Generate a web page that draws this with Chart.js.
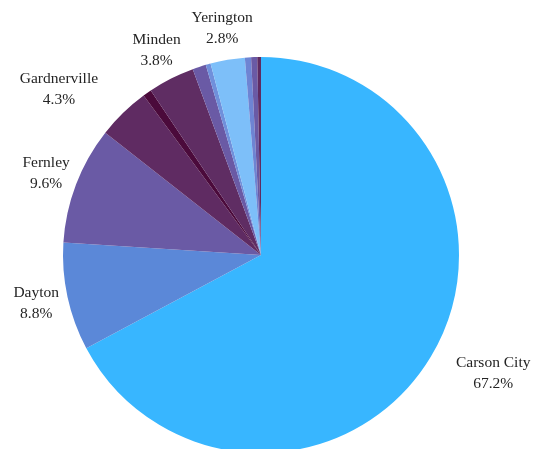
<!DOCTYPE html>
<html>
<head>
<meta charset="utf-8">
<script src="https://cdn.jsdelivr.net/npm/chart.js@4"></script>
<style>
html,body{margin:0;padding:0;overflow:hidden;background:#fff}
#wrap{position:relative;width:544px;height:470px}
</style>
</head>
<body>
<div id="wrap"><canvas id="chart"></canvas></div>
<script>
// slices clockwise from 12 o'clock; small unnamed slices get no label
const labels=["Carson City","Dayton","Fernley","Gardnerville","","Minden","","","Yerington","","",""]
const shares=[67.2,8.8,9.6,4.3,0.7,3.8,1.1,0.4,2.8,0.5,0.5,0.3]
const colors=["#38b6ff","#5b88d8","#6a5aa5","#5f2b62","#4b0a3b","#5f2d63",
              "#6a5aa5","#7090db","#7dbff9","#6e84d3","#6a5aa5","#5e2b62"]

const outsideLabels={
    id:'outsideLabels',
    afterDatasetsDraw(chart){
        const ctx=chart.ctx
        const meta=chart.getDatasetMeta(0)
        const lh=21
        ctx.save()
        ctx.font='15.5px "Liberation Serif", "Times New Roman", serif'
        ctx.fillStyle='#242424'
        ctx.textAlign='center'
        ctx.textBaseline='middle'
        meta.data.forEach((arc,i)=>{
            if(!labels[i]) return
            const p=arc.getProps(['x','y','startAngle','endAngle','outerRadius'],true)
            const mid=(p.startAngle+p.endAngle)/2
            const lines=[labels[i],shares[i].toFixed(1)+'%']
            const w=Math.max(...lines.map(l=>ctx.measureText(l).width))
            const h=lh*2-2
            let cx=p.x+Math.cos(mid)*(p.outerRadius+32)
            const cy=p.y+Math.sin(mid)*(p.outerRadius+32)
            // distance from pie centre to the closest point of the text box
            const gap=(bx)=>{
                const dx=Math.max(bx-w/2-p.x,0,p.x-(bx+w/2))
                const dy=Math.max(cy-h/2-p.y,0,p.y-(cy+h/2))
                return Math.sqrt(dx*dx+dy*dy)
            }
            if(gap(cx)<p.outerRadius+2){
                const dir=Math.cos(mid)>=0?1:-1
                while(gap(cx)<p.outerRadius+20) cx+=dir
            }
            ctx.fillText(lines[0],cx,cy-lh/2)
            ctx.fillText(lines[1],cx,cy+lh/2)
        })
        ctx.restore()
    }
}

new Chart(document.getElementById('chart').getContext('2d'),{
    type:'pie',
    data:{
        labels:labels,
        datasets:[{
            data:shares,
            backgroundColor:colors,
            borderWidth:0
        }]
    },
    options:{
        responsive:true,
        maintainAspectRatio:false,
        animation:false,
        layout:{padding:{top:57,bottom:17,left:63,right:85}},
        plugins:{
            legend:{display:false},
            tooltip:{enabled:false}
        }
    },
    plugins:[outsideLabels]
})
</script>
</body>
</html>
